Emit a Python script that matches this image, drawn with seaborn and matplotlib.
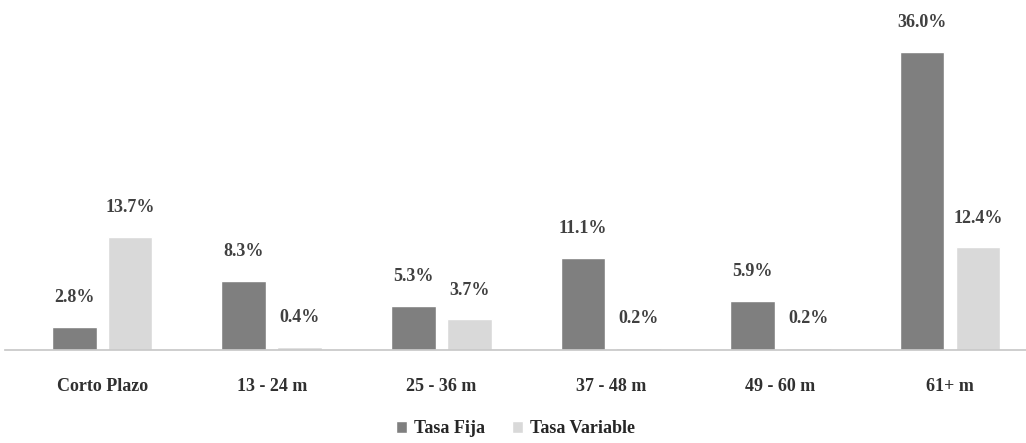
import pandas as pd
import matplotlib
matplotlib.use("Agg")
import matplotlib.pyplot as plt
import seaborn as sb

categories = ["Corto Plazo", "13 - 24 m", "25 - 36 m", "37 - 48 m", "49 - 60 m", "61+ m"]
tasa_fija = [2.8, 8.3, 5.3, 11.1, 5.9, 36.0]
tasa_variable = [13.7, 0.4, 3.7, 0.2, 0.2, 12.4]
series = ["Tasa Fija", "Tasa Variable"]

df = pd.DataFrame({
    "plazo": categories * 2,
    "serie": [series[0]] * len(categories) + [series[1]] * len(categories),
    "valor": tasa_fija + tasa_variable,
})

sb.set_theme(style="white")
plt.rcParams["font.family"] = ["Liberation Serif", "DejaVu Serif"]
plt.rcParams["font.weight"] = "bold"

fig = plt.figure(figsize=(10.26, 4.43), dpi=100)
ax = fig.add_axes([0.005, 0.21, 0.995, 0.79])

sb.barplot(
    data=df, x="plazo", y="valor", hue="serie", order=categories,
    palette=["#7f7f7f", "#d9d9d9"], width=0.66, gap=0.2, ax=ax,
    legend=True,
)

for cont in ax.containers:
    ax.bar_label(cont, labels=[f"{v:.1f}%" for v in cont.datavalues],
                 padding=15, fontsize=13, color="#404040", fontweight="bold")

ax.set_xlim(-0.572, 5.448)
ax.set_ylim(0, 42.3)
ax.set_xlabel("")
ax.set_ylabel("")
ax.set_yticks([])
for side in ["top", "right", "left"]:
    ax.spines[side].set_visible(False)
ax.spines["bottom"].set_color("#c8c8c8")
ax.tick_params(axis="x", length=0, pad=20, labelsize=13, labelcolor="#303030")

ax.legend(loc="upper center", bbox_to_anchor=(0.5, -0.155), ncol=2, frameon=False,
          fontsize=13, handlelength=0.6, handleheight=0.6, columnspacing=1.5,
          handletextpad=0.4)

fig.savefig("out.png", dpi=100)
